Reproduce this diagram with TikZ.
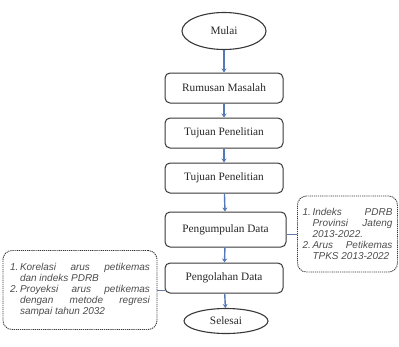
\documentclass[tikz,border=0pt]{standalone}
\usepackage{fontspec}
\setmainfont{Liberation Serif}
\newfontfamily\notefont{Liberation Sans}
\usetikzlibrary{shapes.geometric,arrows.meta}
\definecolor{boxline}{rgb}{0.22,0.22,0.22}
\definecolor{arrowblue}{rgb}{0.33,0.47,0.72}
\definecolor{notetext}{rgb}{0.3,0.3,0.3}
\newcommand{\itemlbl}[1]{\makebox[10pt][l]{#1}}
\tikzset{
  stepbox/.style={draw=boxline, line width=1pt, rounded corners=5pt, minimum width=118pt, minimum height=30pt, inner sep=2pt, font=\fontsize{11.3}{13}\selectfont, text=black!85},
  termnode/.style={draw=boxline, line width=1.1pt, ellipse, inner sep=0pt, font=\fontsize{11.3}{13}\selectfont, text=black!85},
  flowarrow/.style={draw=arrowblue, line width=1.4pt, -{Stealth[length=4pt,width=5pt]}},
  notebox/.style={draw=boxline, line width=0.9pt, dashed, dash pattern=on 1.2pt off 0.9pt, rounded corners=9pt, inner sep=0pt, font=\notefont\itshape\fontsize{10}{10.9}\selectfont, text=notetext, align=justify},
  notelink/.style={draw=arrowblue!70!gray, line width=0.8pt}
}
\begin{document}
\begin{tikzpicture}[x=1pt,y=-1pt]
\useasboundingbox (0,0) rectangle (399,346);
\node[termnode, minimum width=84pt, minimum height=37pt] (mulai) at (224,31) {Mulai};
\node[stepbox] (rumusan) at (224,88) {Rumusan Masalah};
\node[stepbox] (tujuan1) at (224,133) {Tujuan Penelitian};
\node[stepbox] (tujuan2) at (224,178) {Tujuan Penelitian};
\node[stepbox, minimum width=121pt, minimum height=35pt] (kumpul) at (225.5,229.5) {Pengumpulan Data};
\node[stepbox] (olah) at (224,278) {Pengolahan Data};
\node[termnode, minimum width=84pt, minimum height=25pt] (selesai) at (226,321) {Selesai};
\draw[flowarrow] (mulai) -- (rumusan);
\draw[flowarrow] (rumusan) -- (tujuan1);
\draw[flowarrow] (tujuan1) -- (tujuan2);
\draw[flowarrow] (tujuan2) -- (kumpul);
\draw[flowarrow] (kumpul) -- (olah);
\draw[flowarrow] (olah) -- (selesai);
\node[notebox, minimum width=100pt, minimum height=76pt, text width=90pt] (kanan) at (347.5,234) {%
\hangindent=10pt\hangafter=1 \itemlbl{1.}Indeks PDRB\linebreak Provinsi Jateng\linebreak 2013-2022.\par
\hangindent=10pt\hangafter=1 \itemlbl{2.}Arus Petikemas\linebreak TPKS 2013-2022\par};
\node[notebox, minimum width=154pt, minimum height=79pt, text width=140pt] (kiri) at (80,290) {%
\hangindent=10pt\hangafter=1 \itemlbl{1.}Korelasi arus petikemas\linebreak dan indeks PDRB\par
\hangindent=10pt\hangafter=1 \itemlbl{2.}Proyeksi arus petikemas\linebreak dengan metode regresi\linebreak sampai tahun 2032\par};
\draw[notelink] (kanan.west) -- (kanan.west -| kumpul.east);
\draw[notelink] (kiri.east) -- (kiri.east -| olah.west);
\end{tikzpicture}
\end{document}
